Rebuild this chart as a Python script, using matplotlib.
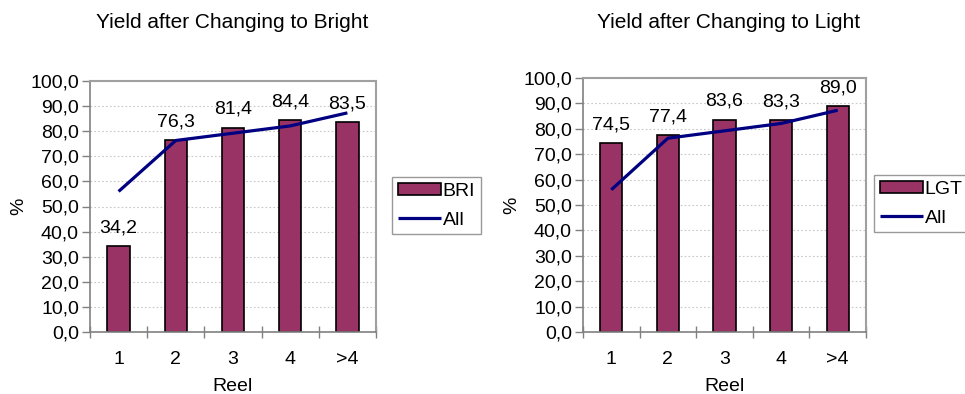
import matplotlib
matplotlib.use("Agg")
import matplotlib.pyplot as plt
from matplotlib.ticker import MultipleLocator, FuncFormatter, FixedLocator

plt.rcParams['font.family'] = ['Liberation Sans', 'DejaVu Sans']

reels = ["1", "2", "3", "4", ">4"]
bright = [34.2, 76.3, 81.4, 84.4, 83.5]
light = [74.5, 77.4, 83.6, 83.3, 89.0]
all_reels = [56.0, 76.3, 79.2, 82.1, 87.3]

BAR_COLOR = "#993366"
LINE_COLOR = "#000080"
FS = 14

fig = plt.figure(figsize=(9.65, 3.94), dpi=100)
W, H = 965, 394


def px_axes(x0, y0, x1, y1):
    return fig.add_axes([x0 / W, 1 - y1 / H, (x1 - x0) / W, (y1 - y0) / H])


def panel(ax, values, series_name, title, title_x, legend_xy):
    x = list(range(len(reels)))
    bars = ax.bar(x, values, width=0.39, color=BAR_COLOR, edgecolor="black",
                  linewidth=1.2, label=series_name, zorder=2)
    line, = ax.plot(x, all_reels, color=LINE_COLOR, linewidth=2.3, label="All",
                    zorder=3, solid_capstyle="butt")
    for xi, v in zip(x, values):
        ax.annotate(f"{v:.1f}".replace(".", ","), (xi, v), xytext=(0, 7),
                    textcoords="offset points", ha="center", va="bottom",
                    fontsize=FS)
    ax.set_xlim(-0.5, len(reels) - 0.5)
    ax.set_ylim(0, 100)
    ax.yaxis.set_major_locator(MultipleLocator(10))
    ax.yaxis.set_major_formatter(FuncFormatter(lambda v, p: f"{v:.1f}".replace(".", ",")))
    ax.set_xticks(x)
    ax.set_xticklabels(reels)
    ax.xaxis.set_minor_locator(FixedLocator([i - 0.5 for i in range(len(reels) + 1)]))
    ax.tick_params(axis="x", which="major", length=0, pad=14, labelsize=FS)
    ax.tick_params(axis="x", which="minor", length=8, direction="inout", color="#808080", width=1)
    ax.tick_params(axis="y", which="major", length=6, direction="out", color="#808080",
                   width=1, labelsize=FS, pad=2)
    ax.grid(axis="y", linestyle=(0, (1.5, 2)), color="#c8c8c8", linewidth=0.8, zorder=0)
    for s in ("top", "right"):
        ax.spines[s].set_color("#a0a0a0")
        ax.spines[s].set_linewidth(1.5)
    for s in ("left", "bottom"):
        ax.spines[s].set_color("#808080")
        ax.spines[s].set_linewidth(1.2)
    ax.set_xlabel("Reel", fontsize=FS, labelpad=7)
    ax.set_ylabel("%", fontsize=FS, labelpad=2)
    fig.text(title_x / W, 1 - 22 / H, title, ha="center", va="center", fontsize=15)
    leg = ax.legend([bars, line], [series_name, "All"], loc="upper left",
                    bbox_to_anchor=(legend_xy[0] / W, 1 - legend_xy[1] / H),
                    bbox_transform=fig.transFigure, fontsize=FS, frameon=True,
                    fancybox=False, edgecolor="#808080", handlelength=2.2,
                    handleheight=0.6, handletextpad=0.1, borderpad=0.3,
                    labelspacing=0.6, borderaxespad=0)
    leg.get_frame().set_linewidth(1.0)


ax1 = px_axes(90, 81, 376, 332)
panel(ax1, bright, "BRI", "Yield after Changing to Bright", 232, (392, 177))

ax2 = px_axes(583, 78, 866, 332)
panel(ax2, light, "LGT", "Yield after Changing to Light", 729, (874, 175))

fig.savefig("out.png", dpi=100)
